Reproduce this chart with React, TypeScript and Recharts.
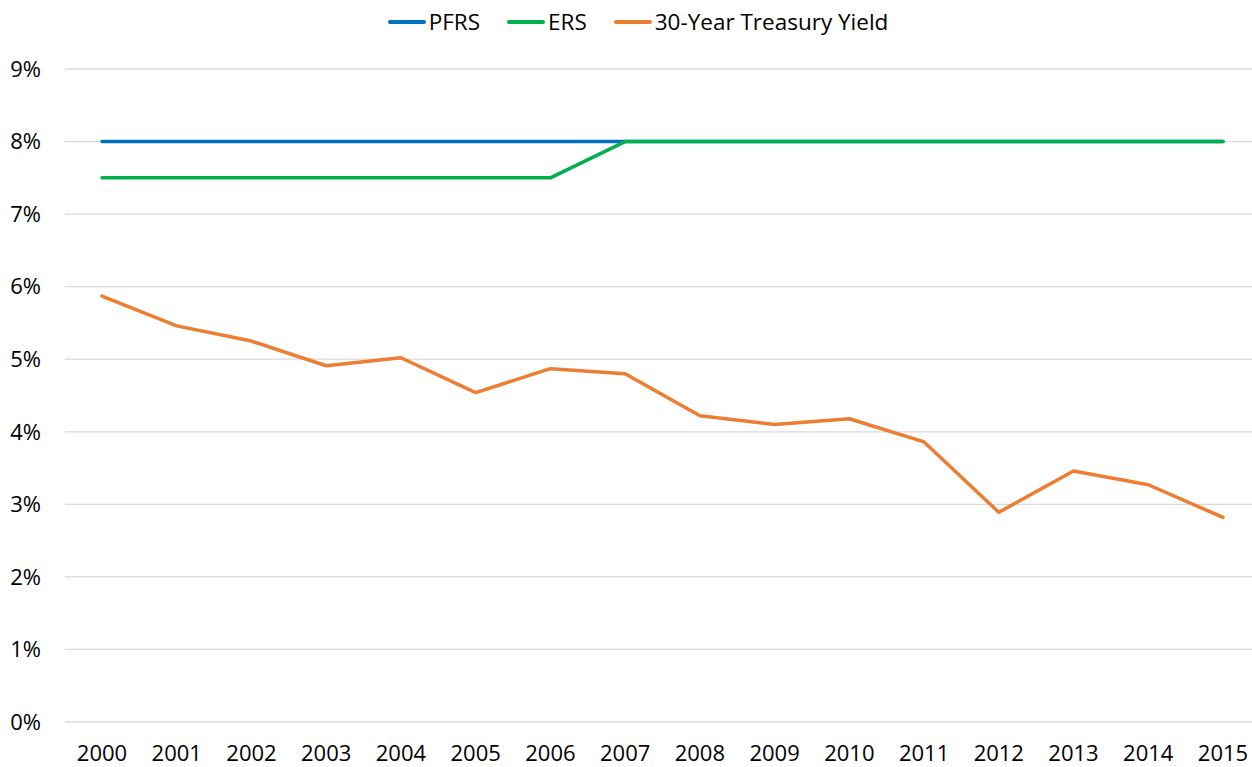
import React from "react";
import {
  LineChart,
  Line,
  XAxis,
  YAxis,
  CartesianGrid,
  Legend,
} from "recharts";

const years = [
  "2000", "2001", "2002", "2003", "2004", "2005", "2006", "2007",
  "2008", "2009", "2010", "2011", "2012", "2013", "2014", "2015",
];
const pfrs = [8, 8, 8, 8, 8, 8, 8, 8, 8, 8, 8, 8, 8, 8, 8, 8];
const ers = [7.5, 7.5, 7.5, 7.5, 7.5, 7.5, 7.5, 8, 8, 8, 8, 8, 8, 8, 8, 8];
const treasury = [
  5.87, 5.46, 5.25, 4.91, 5.02, 4.54, 4.87, 4.8,
  4.22, 4.1, 4.18, 3.86, 2.89, 3.46, 3.27, 2.82,
];
const yTicks = [0, 1, 2, 3, 4, 5, 6, 7, 8, 9];

const series = [
  { key: "pfrs", name: "PFRS", color: "#0070C0" },
  { key: "ers", name: "ERS", color: "#00B050" },
  { key: "treasury", name: "30-Year Treasury Yield", color: "#ED7D31" },
];

const data = years.map((year, i) => ({
  year,
  pfrs: pfrs[i],
  ers: ers[i],
  treasury: treasury[i],
}));

const font = "'Open Sans', sans-serif";

function LegendBox() {
  return (
    <div
      style={{
        display: "flex",
        justifyContent: "center",
        gap: 27,
        fontFamily: font,
        fontSize: 22.5,
        lineHeight: "28px",
        color: "#000",
        paddingLeft: 24,
      }}
    >
      {series.map((s) => (
        <div key={s.key} style={{ display: "flex", alignItems: "center" }}>
          <span
            style={{
              display: "inline-block",
              width: 38,
              height: 4,
              borderRadius: 2,
              background: s.color,
              marginRight: 3,
            }}
          />
          <span>{s.name}</span>
        </div>
      ))}
    </div>
  );
}

export default function App() {
  return (
    <div
      style={{
        position: "absolute",
        left: 0,
        top: 0,
        width: 1252,
        height: 767,
        overflow: "hidden",
        background: "#fff",
      }}
    >
      <LineChart
        width={1260}
        height={767}
        data={data}
        margin={{ top: 41, right: 0, bottom: 0, left: 0 }}
      >
        <CartesianGrid vertical={false} stroke="#d9d9d9" strokeWidth={1.3} />
        <XAxis
          dataKey="year"
          axisLine={false}
          tickLine={false}
          tickSize={0}
          tickMargin={23}
          height={45}
          interval={0}
          padding={{ left: 37, right: 37 }}
          tick={{ fontFamily: font, fontSize: 22, fill: "#000" }}
        />
        <YAxis
          domain={[0, 9]}
          ticks={yTicks}
          width={65}
          axisLine={false}
          tickLine={false}
          tickSize={0}
          tickMargin={24}
          tickFormatter={(v) => `${v}%`}
          tick={{ fontFamily: font, fontSize: 22, fill: "#000" }}
        />
        <Legend
          verticalAlign="top"
          content={() => <LegendBox />}
          wrapperStyle={{ top: 8, left: 0, width: 1252 }}
        />
        {series.map((s) => (
          <Line
            key={s.key}
            type="linear"
            dataKey={s.key}
            name={s.name}
            stroke={s.color}
            strokeWidth={3.5}
            strokeLinecap="round"
            strokeLinejoin="round"
            dot={false}
            activeDot={false}
            isAnimationActive={false}
          />
        ))}
      </LineChart>
    </div>
  );
}
